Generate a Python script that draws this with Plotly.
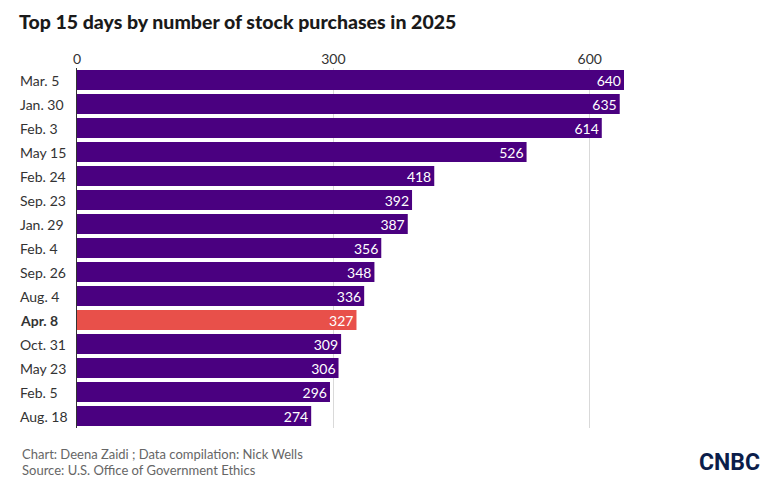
import plotly.graph_objects as go

dates = ["Mar. 5", "Jan. 30", "Feb. 3", "May 15", "Feb. 24", "Sep. 23", "Jan. 29",
         "Feb. 4", "Sep. 26", "Aug. 4", "Apr. 8", "Oct. 31", "May 23", "Feb. 5", "Aug. 18"]
purchases = [640, 635, 614, 526, 418, 392, 387, 356, 348, 336, 327, 309, 306, 296, 274]
highlight = "Apr. 8"
tick_vals = [0, 300, 600]

PURPLE = "#4a0080"
RED = "#e8504a"
colors = [RED if d == highlight else PURPLE for d in dates]

W, H = 775, 487
ML, MR, MT, MB = 77, 151, 68, 59
PW, PH = W - ML - MR, H - MT - MB


def px(x):
    return (x - ML) / PW


def py(y):
    return (H - MB - y) / PH


fig = go.Figure(go.Bar(
    x=purchases, y=dates, orientation="h",
    marker=dict(color=colors, line=dict(width=0)),
    text=[str(v) for v in purchases], textposition="inside", insidetextanchor="end",
    constraintext="none",
    textfont=dict(color="white", size=14, family="Lato"),
    cliponaxis=False, hoverinfo="skip",
))

for d in dates:
    fig.add_annotation(
        x=0, xref="paper", y=d, yref="y", xanchor="left", xshift=-59,
        text=f"<b>{d}</b>" if d == highlight else d, showarrow=False,
        font=dict(size=14, color="#333333", family="Lato"),
    )

fig.update_layout(
    width=W, height=H,
    margin=dict(l=ML, r=MR, t=MT, b=MB),
    paper_bgcolor="white", plot_bgcolor="white",
    bargap=0.17, showlegend=False,
    title=dict(text="Top 15 days by number of stock purchases in 2025",
               x=19 / W, xanchor="left", y=1 - 22 / H, yanchor="middle",
               font=dict(size=19.5, color="#1a1a1a", family="Lato", weight=900)),
    xaxis=dict(range=[0, 640], side="top", tickvals=tick_vals, showgrid=True,
               gridcolor="#d9d9d9", gridwidth=1, zeroline=False, showline=False,
               ticks="", tickfont=dict(size=14, color="#333333", family="Lato"),
               fixedrange=True),
    yaxis=dict(categoryorder="array", categoryarray=dates, autorange="reversed",
               showticklabels=False, ticks="", showgrid=False, zeroline=False,
               showline=True, linecolor="#333333", linewidth=1, fixedrange=True),
    font=dict(family="Lato"),
)

fig.add_annotation(
    x=px(20), xref="paper", y=py(454), yref="paper", xanchor="left", yanchor="middle",
    text="Chart: Deena Zaidi ; Data compilation: Nick Wells", showarrow=False,
    font=dict(size=13, color="#666666", family="Lato"),
)
fig.add_annotation(
    x=px(20), xref="paper", y=py(470), yref="paper", xanchor="left", yanchor="middle",
    text="Source: U.S. Office of Government Ethics", showarrow=False,
    font=dict(size=13, color="#666666", family="Lato"),
)
fig.add_annotation(
    x=px(762), xref="paper", y=py(462), yref="paper", xanchor="right", yanchor="middle",
    text="<b>CNBC</b>", showarrow=False,
    font=dict(size=23, color="#0b1d4a", family="Roboto"),
)

fig.write_html("out.html")
